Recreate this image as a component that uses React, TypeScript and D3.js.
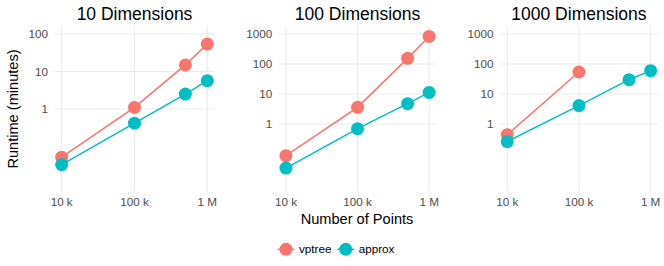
import React from "react";
import * as d3 from "d3";

const panelTitles = ["10 Dimensions", "100 Dimensions", "1000 Dimensions"];
const numPoints = [1e4, 1e5, 5e5, 1e6];
const vptree10 = [0.052, 1.1, 15, 54];
const approx10 = [0.033, 0.42, 2.5, 5.7];
const vptree100 = [0.088, 3.6, 154, 830];
const approx100 = [0.034, 0.7, 4.75, 11.3];
const vptree1000 = [0.44, 54];
const approx1000 = [0.26, 4.1, 30, 60];
const yLimits = [[0.01, 100], [0.01, 1000], [0.01, 1000]];
const yTicks = [[1, 10, 100], [1, 10, 100, 1000], [1, 10, 100, 1000]];
const xTicks = [1e4, 1e5, 1e6];
const xTickLabels = ["10 k", "100 k", "1 M"];
const seriesNames = ["vptree", "approx"];
const colors = ["#F8766D", "#00BFC4"];

const panelData = [
  [vptree10, approx10],
  [vptree100, approx100],
  [vptree1000, approx1000],
];

const W = 664;
const H = 266;
const panelX = [
  [54.4, 214.6],
  [278.8, 436.3],
  [500.1, 657.8],
];
const panelTop = 26.5;
const panelBottom = 191.5;
const font = "'Liberation Sans', Arial, Helvetica, sans-serif";
const R = 6.5;

function expandLog(lim: number[], f = 0.05): [number, number] {
  const a = Math.log10(lim[0]);
  const b = Math.log10(lim[1]);
  const r = b - a;
  return [Math.pow(10, a - r * f), Math.pow(10, b + r * f)];
}

export default function App() {
  const xDom = expandLog([1e4, 1e6], 0.05);
  return (
    <svg
      width={W}
      height={H}
      style={{ position: "absolute", left: 0, top: 0, display: "block", background: "#fff" }}
      fontFamily={font}
    >
      {panelTitles.map((title, p) => {
        const x = d3.scaleLog().domain(xDom).range(panelX[p]);
        const y = d3.scaleLog().domain(expandLog(yLimits[p])).range([panelBottom, panelTop]);
        const line = d3
          .line<[number, number]>()
          .x((d) => x(d[0]))
          .y((d) => y(d[1]));
        return (
          <g key={title}>
            {yTicks[p].map((t) => (
              <line
                key={"gy" + t}
                x1={panelX[p][0]}
                x2={panelX[p][1]}
                y1={y(t)}
                y2={y(t)}
                stroke="#EBEBEB"
                strokeWidth={1.1}
              />
            ))}
            {xTicks.map((t) => (
              <line
                key={"gx" + t}
                x1={x(t)}
                x2={x(t)}
                y1={panelTop}
                y2={panelBottom}
                stroke="#EBEBEB"
                strokeWidth={1.1}
              />
            ))}
            {yTicks[p].map((t) => (
              <text
                key={"ty" + t}
                x={panelX[p][0] - 6.5}
                y={y(t)}
                dy="0.35em"
                textAnchor="end"
                fontSize={11.7}
                fill="#4D4D4D"
              >
                {String(t)}
              </text>
            ))}
            {xTicks.map((t, i) => (
              <text
                key={"tx" + t}
                x={x(t)}
                y={206}
                textAnchor="middle"
                fontSize={11.7}
                fill="#4D4D4D"
              >
                {xTickLabels[i]}
              </text>
            ))}
            <text
              x={(panelX[p][0] + panelX[p][1]) / 2}
              y={20}
              textAnchor="middle"
              fontSize={17.5}
              fill="#000"
            >
              {title}
            </text>
            {panelData[p].map((vals, s) => {
              const pts: [number, number][] = vals.map((v, i) => [numPoints[i], v]);
              return (
                <g key={seriesNames[s]}>
                  <path d={line(pts) || ""} fill="none" stroke={colors[s]} strokeWidth={1.5} />
                  {pts.map((d, i) => (
                    <circle key={i} cx={x(d[0])} cy={y(d[1])} r={R} fill={colors[s]} />
                  ))}
                </g>
              );
            })}
          </g>
        );
      })}
      <text x={357} y={224} textAnchor="middle" fontSize={14.6} fill="#000">
        Number of Points
      </text>
      <text
        transform={`translate(17.5,${(panelTop + panelBottom) / 2}) rotate(-90)`}
        textAnchor="middle"
        fontSize={14.6}
        fill="#000"
      >
        Runtime (minutes)
      </text>
      {seriesNames.map((name, i) => {
        const kx = [277.5, 337.2][i];
        return (
          <g key={name}>
            <line x1={kx} x2={kx + 17} y1={249.3} y2={249.3} stroke={colors[i]} strokeWidth={1.5} />
            <circle cx={kx + 8.5} cy={249.3} r={R} fill={colors[i]} />
            <text x={kx + 21.5} y={249.3} dy="0.35em" fontSize={11.7} fill="#000">
              {name}
            </text>
          </g>
        );
      })}
    </svg>
  );
}
